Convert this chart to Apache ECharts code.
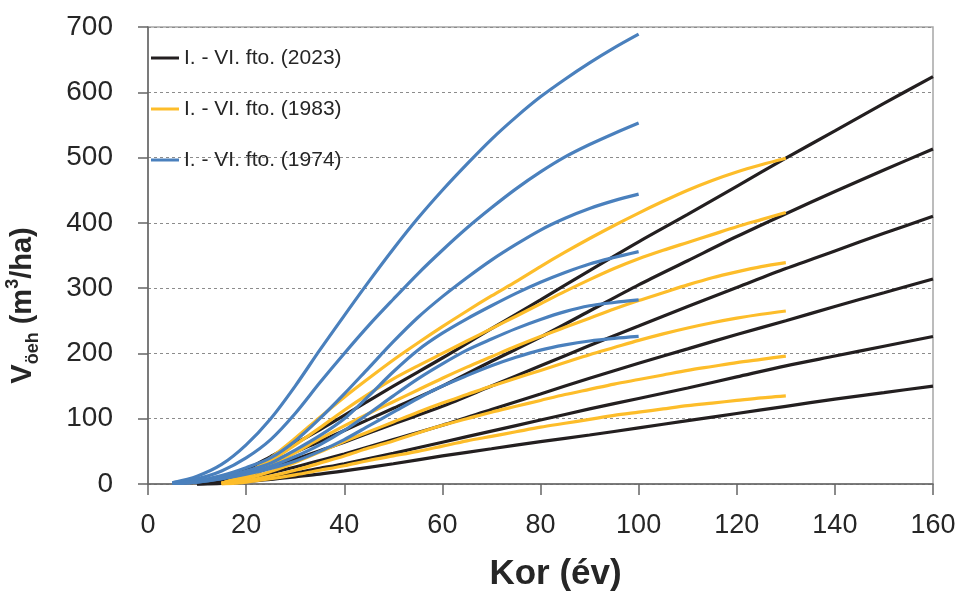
<!DOCTYPE html>
<html>
<head>
<meta charset="utf-8">
<script src="https://cdn.jsdelivr.net/npm/echarts@6/dist/echarts.min.js"></script>
<style>
  html, body { margin: 0; padding: 0; background: #fff; }
  #chart { width: 962px; height: 592px; }
</style>
</head>
<body>
<div id="chart"></div>
<script>
// kor (év) pontok az egyes görbecsaládokhoz
var ageBlack = [10, 15, 20, 25, 30, 35, 40, 50, 60, 70, 80, 90, 100, 110, 120, 130, 140, 150, 160];
var ageOrange = [15, 20, 25, 30, 35, 40, 45, 50, 55, 60, 65, 70, 75, 80, 85, 90, 95, 100, 105, 110, 115, 120, 125, 130];
var ageBlue = [5, 10, 15, 20, 25, 30, 35, 40, 45, 50, 55, 60, 65, 70, 75, 80, 85, 90, 95, 100];

// I. - VI. fto. (2023)
var k1 = [0, 5, 22, 42, 62, 83, 105, 150, 193, 238, 282, 327, 371, 413, 456, 499, 541, 583, 624];
var k2 = [0, 4, 18, 33, 49, 65, 82, 116, 150, 188, 225, 265, 305, 342, 379, 414, 448, 481, 513];
var k3 = [0, 3, 13, 25, 38, 51, 64, 92, 119, 150, 181, 212, 242, 272, 301, 330, 357, 384, 410];
var k4 = [0, 2, 9, 17, 26, 36, 46, 68, 90, 114, 138, 162, 185, 207, 229, 250, 272, 293, 314];
var k5 = [0, 1, 6, 11, 17, 24, 31, 47, 64, 81, 98, 115, 131, 147, 164, 181, 196, 211, 226];
var k6 = [0, 1, 4, 7, 11, 15, 20, 31, 43, 54, 65, 75, 86, 97, 108, 119, 130, 140, 150];

// I. - VI. fto. (1983)
var o1 = [1, 15, 40, 70, 102, 133, 162, 190, 216, 241, 265, 288, 310, 333, 355, 376, 396, 415, 433, 450, 465, 478, 489, 499];
var o2 = [1, 14, 35, 60, 86, 113, 138, 161, 181, 200, 219, 238, 257, 276, 295, 313, 330, 345, 358, 370, 382, 394, 405, 416];
var o3 = [1, 11, 28, 48, 69, 89, 108, 126, 144, 162, 179, 195, 211, 226, 240, 254, 268, 281, 293, 305, 316, 325, 333, 339];
var o4 = [1, 8, 19, 33, 49, 65, 80, 95, 110, 124, 137, 150, 162, 174, 186, 198, 209, 220, 230, 239, 247, 254, 260, 265];
var o5 = [0, 5, 12, 21, 32, 43, 55, 66, 78, 90, 100, 110, 119, 128, 137, 145, 153, 160, 167, 174, 180, 186, 191, 196];
var o6 = [0, 3, 8, 14, 21, 28, 36, 43, 50, 58, 66, 73, 80, 87, 93, 99, 105, 110, 115, 120, 124, 128, 132, 135];

// I. - VI. fto. (1974)
var b1 = [2, 12, 30, 60, 100, 150, 205, 258, 310, 360, 407, 450, 490, 528, 562, 593, 620, 645, 668, 689];
var b2 = [2, 8, 20, 40, 68, 108, 155, 200, 243, 283, 322, 358, 392, 423, 452, 478, 501, 520, 537, 553];
var b3 = [1, 5, 13, 25, 40, 66, 100, 138, 178, 218, 255, 287, 316, 343, 367, 389, 407, 422, 434, 444];
var b4 = [1, 4, 10, 20, 32, 52, 74, 100, 135, 172, 205, 231, 253, 273, 292, 309, 324, 337, 347, 356];
var b5 = [1, 3, 8, 16, 27, 42, 60, 82, 108, 135, 161, 184, 205, 222, 238, 252, 264, 273, 278, 282];
var b6 = [1, 3, 8, 15, 24, 35, 50, 68, 89, 110, 131, 150, 166, 181, 194, 205, 213, 219, 223, 226];

var xTicks = [0, 20, 40, 60, 80, 100, 120, 140, 160];
var yTicks = [0, 100, 200, 300, 400, 500, 600, 700];

var names = ['I. - VI. fto. (2023)', 'I. - VI. fto. (1983)', 'I. - VI. fto. (1974)'];
var colors = ['#231f20', '#fdbd2a', '#4a80bd'];
var font = "'Liberation Sans', Arial, sans-serif";

function line(idx, ages, vals) {
  return {
    name: names[idx],
    type: 'line',
    smooth: 0.3,
    symbol: 'none',
    silent: true,
    color: colors[idx],
    lineStyle: { color: colors[idx], width: 3.2 },
    data: ages.map(function (a, i) { return [a, vals[i]]; })
  };
}

var series = [];
[k1, k2, k3, k4, k5, k6].forEach(function (v) { series.push(line(0, ageBlack, v)); });
[o1, o2, o3, o4, o5, o6].forEach(function (v) { series.push(line(1, ageOrange, v)); });
[b1, b2, b3, b4, b5, b6].forEach(function (v) { series.push(line(2, ageBlue, v)); });

var chart = echarts.init(document.getElementById('chart'));
chart.setOption({
  animation: false,
  backgroundColor: '#fff',
  textStyle: { fontFamily: font },
  grid: {
    left: 148, right: 29, top: 27, bottom: 108,
    outerBoundsMode: 'none',
    containLabel: false,
    show: true, borderColor: '#a6a6a6', borderWidth: 1.5
  },
  legend: {
    data: names,
    orient: 'vertical',
    left: 146, top: 41,
    itemWidth: 28, itemHeight: 3,
    itemGap: 27,
    itemTextGap: 3,
    itemStyle: { borderWidth: 0 },
    icon: 'rect',
    textStyle: { fontSize: 21, color: '#262626', lineHeight: 24, fontFamily: font }
  },
  xAxis: {
    type: 'value',
    min: xTicks[0], max: xTicks[xTicks.length - 1], interval: 20,
    name: 'Kor (év)',
    nameLocation: 'middle',
    nameGap: 73,
    nameTextStyle: { fontSize: 35, fontWeight: 'bold', color: '#262626', padding: [0, 0, 0, 30] },
    axisLine: { lineStyle: { color: '#666', width: 1.5 } },
    axisTick: { length: 11, lineStyle: { color: '#666', width: 1.5 } },
    axisLabel: { fontSize: 27, color: '#262626', margin: 28 },
    splitLine: { show: false }
  },
  yAxis: {
    type: 'value',
    min: yTicks[0], max: yTicks[yTicks.length - 1], interval: 100,
    name: '{b|V}{s|öeh}{b| (m}{p|3}{b|/ha)}',
    nameLocation: 'middle',
    nameGap: 106,
    nameTextStyle: {
      padding: [0, 100, 0, 0],
      rich: {
        b: { fontSize: 29, fontWeight: 'bold', color: '#262626', lineHeight: 38 },
        s: { fontSize: 18, fontWeight: 'bold', color: '#262626', lineHeight: 38, verticalAlign: 'bottom' },
        p: { fontSize: 18, fontWeight: 'bold', color: '#262626', lineHeight: 38, verticalAlign: 'top' }
      }
    },
    axisLine: { show: true, lineStyle: { color: '#666', width: 1.5 } },
    axisTick: { show: true, length: 10, lineStyle: { color: '#666', width: 1.5 } },
    axisLabel: { fontSize: 28, color: '#262626', margin: 35 },
    splitLine: { show: true, lineStyle: { color: '#8c8c8c', width: 1, type: [3, 3] } }
  },
  series: series
});
</script>
</body>
</html>
